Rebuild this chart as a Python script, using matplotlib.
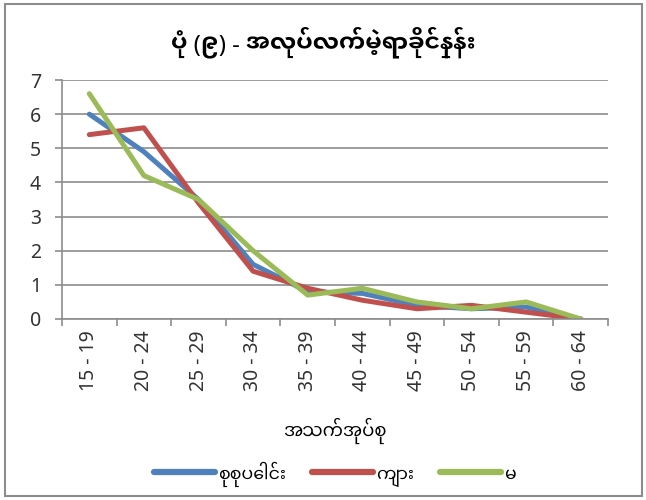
import matplotlib
matplotlib.use("Agg")
import matplotlib.pyplot as plt
from matplotlib.patches import Rectangle

categories = ["15 - 19", "20 - 24", "25 - 29", "30 - 34", "35 - 39",
              "40 - 44", "45 - 49", "50 - 54", "55 - 59", "60 - 64"]
total = [6.0, 4.9, 3.5, 1.6, 0.8, 0.75, 0.4, 0.3, 0.35, 0.0]
male = [5.4, 5.6, 3.4, 1.4, 0.9, 0.55, 0.3, 0.4, 0.2, 0.0]
female = [6.6, 4.2, 3.5, 2.0, 0.7, 0.9, 0.5, 0.3, 0.5, 0.0]
series_names = ["စုစုပေါင်း", "ကျား", "မ"]
title = "ပုံ (၉) - အလုပ်လက်မဲ့ရာခိုင်နှုန်း"
xlabel = "အသက်အုပ်စု"
yticks = [0, 1, 2, 3, 4, 5, 6, 7]

colors = ["#4F81BD", "#C0504D", "#9BBB59"]
plt.rcParams['font.family'] = ['Noto Sans', 'Noto Sans Myanmar', 'DejaVu Sans']
mm_family = ['Noto Sans Myanmar', 'Noto Sans', 'DejaVu Sans']
mm_bold_family = ['Noto Sans Myanmar UI', 'Noto Sans', 'DejaVu Sans']

fig = plt.figure(figsize=(6.46, 5.0), dpi=100)
fig.patches.append(Rectangle((5/646, 4/500), 637/646, 492/500, transform=fig.transFigure,
                             fill=False, edgecolor="#8c8c8c", linewidth=1.5))
ax = fig.add_axes([62/646, 1-319/500, 546/646, 239/500])

x = list(range(len(categories)))
for vals, name, c in zip([total, male, female], series_names, colors):
    ax.plot(x, vals, color=c, linewidth=3.6, label=name, solid_joinstyle="round",
            solid_capstyle="round")

ax.set_ylim(0, 7)
ax.set_xlim(-0.5, len(categories) - 0.5)
ax.set_yticks(yticks)
ax.set_yticklabels([str(v) for v in yticks], fontsize=14, color="#333333")
ax.yaxis.grid(True, color="#8c8c8c", linewidth=1.2)
ax.set_axisbelow(True)
ax.set_xticks(x)
ax.set_xticklabels(categories, rotation=90, fontsize=14, color="#333333")
ax.set_xticks([i - 0.5 for i in range(len(categories) + 1)], minor=True)
ax.tick_params(axis="x", which="major", length=0, pad=8)
ax.tick_params(axis="x", which="minor", length=5, color="#8c8c8c", width=1.2)
ax.tick_params(axis="y", length=5, color="#8c8c8c", width=1.2, pad=10)
for s in ["top", "right"]:
    ax.spines[s].set_visible(False)
for s in ["left", "bottom"]:
    ax.spines[s].set_color("#8c8c8c")
    ax.spines[s].set_linewidth(1.2)

ax.text(0.5, (319-431)/239, xlabel, transform=ax.transAxes, ha="center", va="center",
        fontsize=13, family=mm_family)
fig.text(0.5, 1-42/500, title, ha="center", va="center", fontsize=17, fontweight="bold",
         family=mm_bold_family)
leg = ax.legend(loc="center", bbox_to_anchor=(0.5, (319-474)/239), ncol=3, frameon=False,
                prop={'family': mm_family, 'size': 12.5}, handlelength=3.5,
                columnspacing=1.5, handletextpad=0.2)
for h in leg.get_lines():
    h.set_linewidth(4.5)

fig.savefig("out.png", dpi=100)
